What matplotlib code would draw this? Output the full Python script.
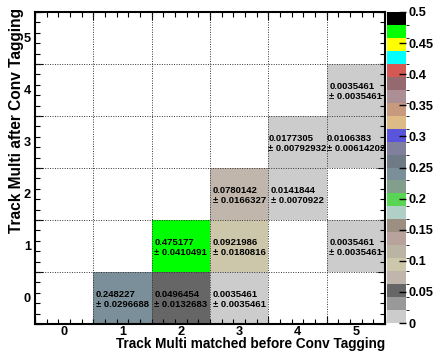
import numpy as np
import matplotlib
matplotlib.use("Agg")
import matplotlib.pyplot as plt
from matplotlib.colors import ListedColormap, BoundaryNorm
from matplotlib.ticker import FixedLocator

plt.rcParams['font.family'] = ['Liberation Sans', 'DejaVu Sans']
plt.rcParams['font.weight'] = 'bold'

# ---- data ----
x_bins = [0, 1, 2, 3, 4, 5]
y_bins = [0, 1, 2, 3, 4, 5]
cell_x = [1, 2, 3, 2, 3, 5, 3, 4, 4, 5, 5]
cell_y = [0, 0, 0, 1, 1, 1, 2, 2, 3, 3, 4]
cell_val = [0.248227, 0.0496454, 0.0035461, 0.475177, 0.0921986, 0.0035461,
            0.0780142, 0.0141844, 0.0177305, 0.0106383, 0.0035461]
cell_err = ["0.0296688", "0.0132683", "0.0035461", "0.0410491", "0.0180816", "0.0035461",
            "0.0166327", "0.0070922", "0.00792932", "0.00614202", "0.0035461"]
cell_txt = ["0.248227", "0.0496454", "0.0035461", "0.475177", "0.0921986", "0.0035461",
            "0.0780142", "0.0141844", "0.0177305", "0.0106383", "0.0035461"]
z_ticks = [0, 0.05, 0.1, 0.15, 0.2, 0.25, 0.3, 0.35, 0.4, 0.45, 0.5]
z_tick_labels = ["0", "0.05", "0.1", "0.15", "0.2", "0.25", "0.3", "0.35", "0.4", "0.45", "0.5"]
x_title = "Track Multi matched before Conv Tagging"
y_title = "Track Multi after Conv Tagging"

# ROOT default palette colours (every other entry of the 50-colour palette)
palette = ["#cccccc", "#999999", "#666666", "#c0b6ac", "#ccc7ab", "#bab5a3",
           "#b8a39c", "#9c8f82", "#b0cfc7", "#59d454", "#829e8c", "#7a8f99",
           "#6e7a85", "#80809c", "#5954d9", "#deba87", "#c7997d", "#ab8f94",
           "#946970", "#d45954", "#00ffff", "#ffff00", "#00ff00", "#000000"]
zmin, zmax = 0.0, 0.5

# ---- grid of values ----
Z = np.full((len(y_bins), len(x_bins)), np.nan)
for xi, yi, v in zip(cell_x, cell_y, cell_val):
    Z[yi, xi] = v
Zm = np.ma.masked_invalid(Z)

cmap = ListedColormap(palette)
bounds = np.linspace(zmin, zmax, len(palette) + 1)
norm = BoundaryNorm(bounds, cmap.N)

W, H = 435, 353
fig = plt.figure(figsize=(W / 100, H / 100), dpi=100)
fl, fr, ft, fb = 35, 385, 12, 324
ax = fig.add_axes([fl / W, (H - fb) / H, (fr - fl) / W, (fb - ft) / H])

edges_x = np.arange(len(x_bins) + 1) - 0.5
edges_y = np.arange(len(y_bins) + 1) - 0.5
mesh = ax.pcolormesh(edges_x, edges_y, Zm, cmap=cmap, norm=norm, zorder=1)

ax.set_xlim(edges_x[0], edges_x[-1])
ax.set_ylim(edges_y[0], edges_y[-1])

# grid at bin edges (dotted)
for e in edges_x[1:-1]:
    ax.axvline(e, color='#333333', lw=0.7, ls=(0, (1, 1.5)), zorder=3)
for e in edges_y[1:-1]:
    ax.axhline(e, color='#333333', lw=0.7, ls=(0, (1, 1.5)), zorder=3)

# text in cells
for xi, yi, t, e in zip(cell_x, cell_y, cell_txt, cell_err):
    ax.text(xi, yi - 0.03, t + "\n\u00b1 " + e, ha='center', va='center', multialignment='left',
            fontsize=6.8, fontweight='bold', linespacing=1.05, zorder=4, color='black')

# ticks
ax.xaxis.set_major_locator(FixedLocator(x_bins))
ax.yaxis.set_major_locator(FixedLocator(y_bins))
ax.set_xticklabels([str(v) for v in x_bins])
ax.set_yticklabels([str(v) for v in y_bins])
minor = np.round(np.arange(-0.5, 5.51, 0.2), 3)
ax.xaxis.set_minor_locator(FixedLocator(minor))
ax.yaxis.set_minor_locator(FixedLocator(minor))
ax.tick_params(which='major', length=0, labelsize=9.2)
ax.tick_params(axis='x', which='major', pad=1.5)
ax.tick_params(axis='y', which='major', pad=3)
ax.tick_params(which='minor', direction='in', length=3.5, width=0.8, top=True, right=True)
for lab in ax.get_xticklabels() + ax.get_yticklabels():
    lab.set_fontweight('bold')

# longer ticks at bin edges
for side in ('bottom', 'top'):
    sx = ax.secondary_xaxis(side)
    sx.set_xticks(edges_x)
    sx.tick_params(direction='in', length=6, width=0.8, labelbottom=False, labeltop=False)
    sx.spines[side].set_visible(False)
for side in ('left', 'right'):
    sy = ax.secondary_yaxis(side)
    sy.set_yticks(edges_y)
    sy.tick_params(direction='in', length=6, width=0.8, labelleft=False, labelright=False)
    sy.spines[side].set_visible(False)

for s in ax.spines.values():
    s.set_linewidth(1.5)
    s.set_zorder(5)

ax.set_xlabel(x_title, fontsize=9.8, fontweight='bold', loc='right')
ax.xaxis.set_label_coords(1.0, -0.042)
ax.set_ylabel(y_title, fontsize=11.2, fontweight='bold', loc='top')
ax.yaxis.set_label_coords(-0.03, 1.013)

# colour bar
cl, cr, ct, cb = 387, 406, 12, 323
cax = fig.add_axes([cl / W, (H - cb) / H, (cr - cl) / W, (cb - ct) / H])
cbar = fig.colorbar(mesh, cax=cax, boundaries=bounds, ticks=z_ticks)
cbar.outline.set_visible(False)
cbar.ax.set_yticklabels(z_tick_labels)
cbar.ax.tick_params(direction='in', length=5, width=1, labelsize=9.2, pad=2)
for lab in cbar.ax.get_yticklabels():
    lab.set_fontweight('bold')

fig.savefig("out.png", dpi=100)
